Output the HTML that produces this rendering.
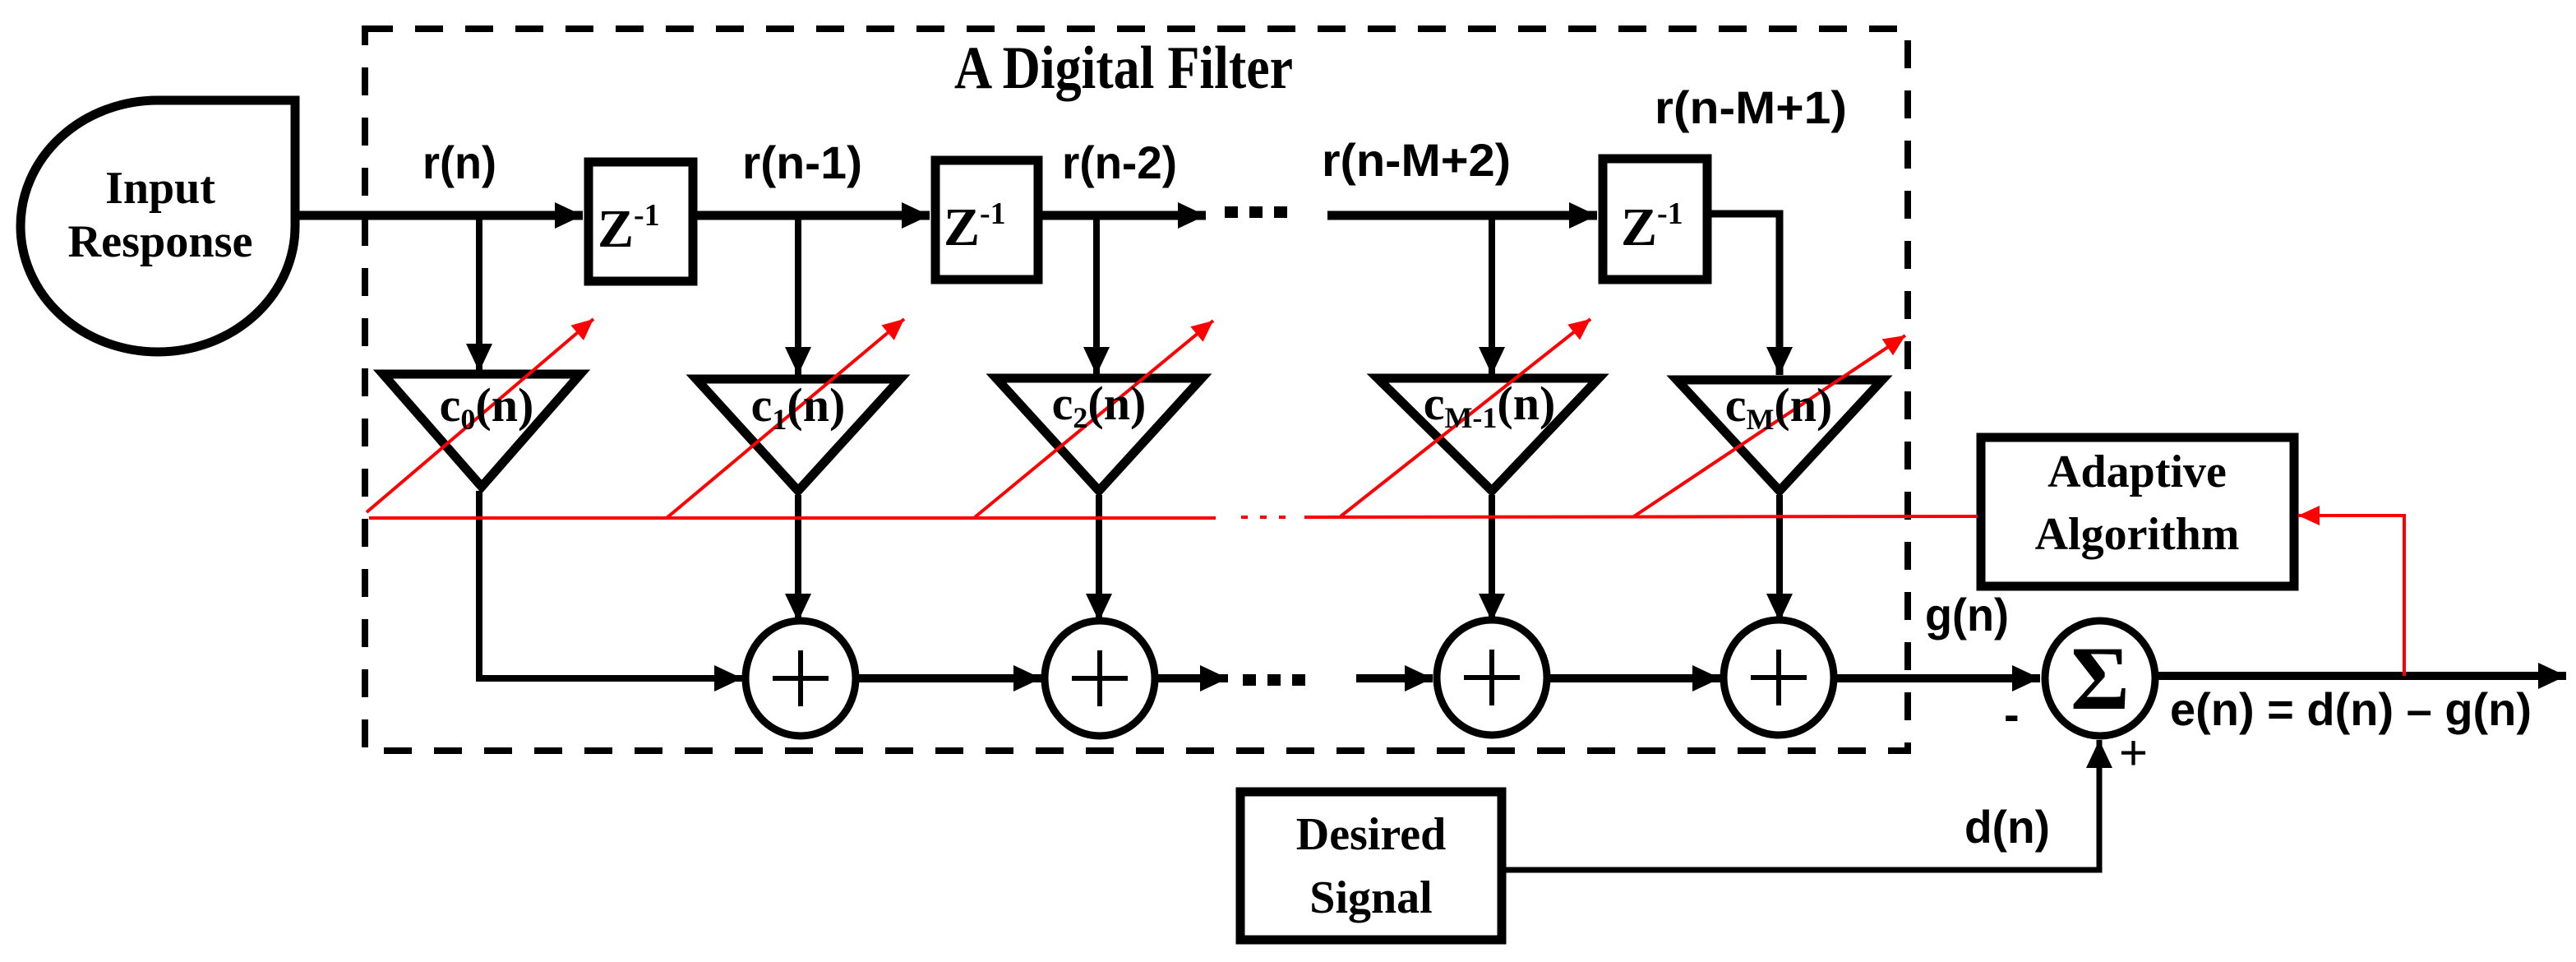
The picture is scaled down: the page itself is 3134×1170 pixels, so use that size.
<!DOCTYPE html>
<html><head><meta charset="utf-8"><style>
html,body{margin:0;padding:0;background:#fff}
svg{display:block}
.s{font-family:"Liberation Sans",sans-serif;font-weight:bold}
.t{font-family:"Liberation Serif",serif;font-weight:bold}
</style></head><body>
<svg width="3134" height="1170" viewBox="0 0 3134 1170" xmlns="http://www.w3.org/2000/svg">
<defs>
<marker id="a" markerUnits="userSpaceOnUse" markerWidth="40" markerHeight="40" refX="34" refY="16" orient="auto"><path d="M0,0 L34,16 L0,32 Z" fill="#000"/></marker>
<marker id="r" markerUnits="userSpaceOnUse" markerWidth="30" markerHeight="30" refX="26" refY="12" orient="auto"><path d="M0,0 L26,12 L0,24 Z" fill="#f00"/></marker>
</defs>
<rect x="444" y="35" width="1877" height="878" fill="none" stroke="#000" stroke-width="8" stroke-dasharray="34,27"/>
<text class="t" x="1161" y="107" font-size="74" textLength="412" lengthAdjust="spacingAndGlyphs">A Digital Filter</text>

<path d="M192,122 L359,122 L359,275 A167 153 0 1 1 192 122 Z" fill="#fff" stroke="#000" stroke-width="11"/>
<text class="t" x="195" y="247" font-size="56" text-anchor="middle">Input</text>
<text class="t" x="195" y="312" font-size="56" text-anchor="middle" textLength="225" lengthAdjust="spacingAndGlyphs">Response</text>

<g stroke="#000" fill="none">
<line x1="359" y1="262" x2="709" y2="262" stroke-width="11" marker-end="url(#a)"/>
<line x1="848" y1="262" x2="1131" y2="262" stroke-width="11" marker-end="url(#a)"/>
<line x1="1268" y1="262" x2="1467" y2="262" stroke-width="11" marker-end="url(#a)"/>
<line x1="1615" y1="262" x2="1943" y2="262" stroke-width="11" marker-end="url(#a)"/>
<polyline points="2082,260 2165,260 2165,456" stroke-width="9" marker-end="url(#a)"/>
<rect x="716" y="197" width="127" height="145" stroke-width="11"/>
<rect x="1138" y="195" width="125" height="145" stroke-width="11"/>
<rect x="1950" y="193" width="127" height="147" stroke-width="11"/>
<line x1="583" y1="262" x2="583" y2="452" stroke-width="8" marker-end="url(#a)"/>
<line x1="971" y1="262" x2="971" y2="456" stroke-width="8" marker-end="url(#a)"/>
<line x1="1334" y1="262" x2="1334" y2="456" stroke-width="8" marker-end="url(#a)"/>
<line x1="1815" y1="262" x2="1815" y2="456" stroke-width="8" marker-end="url(#a)"/>
<path d="M466,455 L706,455 L586,592 Z" stroke-width="11"/>
<path d="M847,461 L1095,461 L971,597 Z" stroke-width="11"/>
<path d="M1212,460 L1462,460 L1337,597 Z" stroke-width="11"/>
<path d="M1676,460 L1945,460 L1815,597 Z" stroke-width="11"/>
<path d="M2040,462 L2290,462 L2165,597 Z" stroke-width="11"/>
<polyline points="583,597 583,825 903,825" stroke-width="8" marker-end="url(#a)"/>
<line x1="971" y1="602" x2="971" y2="756" stroke-width="8" marker-end="url(#a)"/>
<line x1="1337" y1="602" x2="1337" y2="756" stroke-width="8" marker-end="url(#a)"/>
<line x1="1815" y1="602" x2="1815" y2="756" stroke-width="8" marker-end="url(#a)"/>
<line x1="2165" y1="602" x2="2165" y2="756" stroke-width="8" marker-end="url(#a)"/>
<line x1="1043" y1="825" x2="1267" y2="825" stroke-width="10" marker-end="url(#a)"/>
<line x1="1409" y1="825" x2="1494" y2="825" stroke-width="10" marker-end="url(#a)"/>
<line x1="1650" y1="825" x2="1743" y2="825" stroke-width="10" marker-end="url(#a)"/>
<line x1="1886" y1="825" x2="2093" y2="825" stroke-width="10" marker-end="url(#a)"/>
<line x1="2234" y1="825" x2="2482" y2="825" stroke-width="10" marker-end="url(#a)"/>
<line x1="2625" y1="822" x2="3122" y2="822" stroke-width="10" marker-end="url(#a)"/>
<ellipse cx="974" cy="825" rx="67" ry="70" stroke-width="9"/>
<ellipse cx="1338" cy="825" rx="67" ry="70" stroke-width="9"/>
<ellipse cx="1815" cy="824" rx="67" ry="70" stroke-width="9"/>
<ellipse cx="2164" cy="824" rx="67" ry="70" stroke-width="9"/>
<ellipse cx="2555" cy="825" rx="67" ry="70" stroke-width="9"/>
<g stroke-width="6">
<path d="M940,825 H1008 M974,791 V859"/>
<path d="M1304,825 H1372 M1338,791 V859"/>
<path d="M1781,824 H1849 M1815,790 V858"/>
<path d="M2130,824 H2198 M2164,790 V858"/>
</g>
<rect x="1509" y="963" width="318" height="180" stroke-width="11"/>
<polyline points="1832,1058 2554,1058 2554,900" stroke-width="7" marker-end="url(#a)"/>
<rect x="2410" y="532" width="381" height="181" stroke-width="11"/>
</g>
<g fill="#000">
<rect x="1490" y="251" width="16" height="14"/><rect x="1520" y="251" width="16" height="14"/><rect x="1550" y="251" width="16" height="14"/>
<rect x="1512" y="820" width="16" height="14"/><rect x="1542" y="820" width="16" height="14"/><rect x="1572" y="820" width="16" height="14"/>
</g>
<g stroke="#f00" stroke-width="4" fill="none">
<line x1="449" y1="630" x2="1479" y2="630"/>
<line x1="1587" y1="629" x2="2406" y2="628"/>
<path d="M1510,629 h8 M1533,629 h8 M1556,629 h8"/>
<line x1="446" y1="623" x2="722" y2="388" marker-end="url(#r)"/>
<line x1="811" y1="630" x2="1100" y2="388" marker-end="url(#r)"/>
<line x1="1186" y1="629" x2="1476" y2="390" marker-end="url(#r)"/>
<line x1="1631" y1="628" x2="1935" y2="388" marker-end="url(#r)"/>
<line x1="1988" y1="628" x2="2318" y2="408" marker-end="url(#r)"/>
<polyline points="2925,822 2925,627 2796,627" marker-end="url(#r)"/>
</g>
<g class="s" font-size="56">
<text x="559" y="217" text-anchor="middle" textLength="90" lengthAdjust="spacingAndGlyphs">r(n)</text>
<text x="976" y="217" text-anchor="middle" textLength="146" lengthAdjust="spacingAndGlyphs">r(n-1)</text>
<text x="1362" y="217" text-anchor="middle" textLength="140" lengthAdjust="spacingAndGlyphs">r(n-2)</text>
<text x="1723" y="214" text-anchor="middle" textLength="230" lengthAdjust="spacingAndGlyphs">r(n-M+2)</text>
<text x="2013" y="150" textLength="234" lengthAdjust="spacingAndGlyphs">r(n-M+1)</text>
<text x="2342" y="767" textLength="102" lengthAdjust="spacingAndGlyphs">g(n)</text>
<text x="2390" y="1025" textLength="104" lengthAdjust="spacingAndGlyphs">d(n)</text>
<text x="2640" y="882" textLength="440" lengthAdjust="spacingAndGlyphs">e(n) = d(n) – g(n)</text>
<text x="2438" y="888">-</text>
</g>
<text x="2578" y="936" font-family="Liberation Sans,sans-serif" font-size="60">+</text>
<text x="2555" y="862" class="t" font-size="110" text-anchor="middle">Σ</text>
<g class="t">
<text x="727" y="300" font-size="66">Z<tspan font-size="38" dy="-26">-1</tspan></text>
<text x="1148" y="298" font-size="66">Z<tspan font-size="38" dy="-26">-1</tspan></text>
<text x="1972" y="298" font-size="66">Z<tspan font-size="38" dy="-26">-1</tspan></text>
</g>
<g class="t" font-size="58" text-anchor="middle">
<text x="592" y="512">c<tspan font-size="36" dy="10">0</tspan><tspan dy="-10">(n)</tspan></text>
<text x="971" y="512">c<tspan font-size="36" dy="10">1</tspan><tspan dy="-10">(n)</tspan></text>
<text x="1337" y="510">c<tspan font-size="36" dy="10">2</tspan><tspan dy="-10">(n)</tspan></text>
<text x="1812" y="510">c<tspan font-size="36" dy="10">M-1</tspan><tspan dy="-10">(n)</tspan></text>
<text x="2164" y="512">c<tspan font-size="36" dy="10">M</tspan><tspan dy="-10">(n)</tspan></text>
</g>
<g class="t" font-size="56" text-anchor="middle">
<text x="2600" y="592">Adaptive</text>
<text x="2600" y="668">Algorithm</text>
<text x="1668" y="1033">Desired</text>
<text x="1668" y="1110">Signal</text>
</g>
</svg>
</body></html>
